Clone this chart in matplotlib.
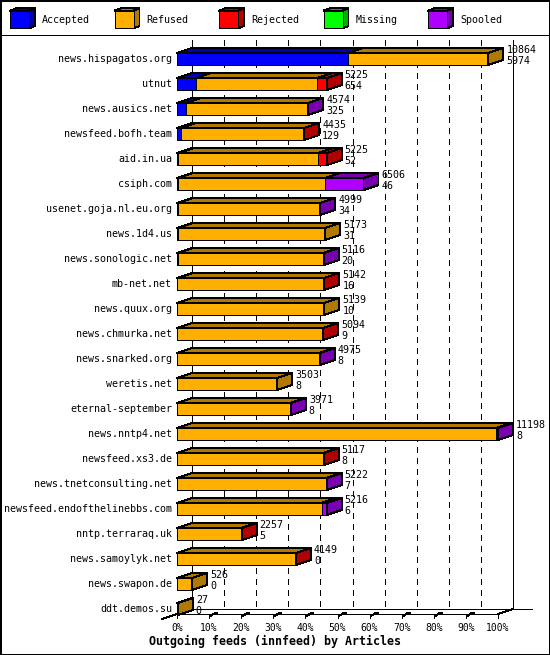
import matplotlib
matplotlib.use("Agg")
import matplotlib.pyplot as plt
from matplotlib.patches import Polygon, Rectangle

# ---------------- data ----------------
hosts = ["news.hispagatos.org", "utnut", "news.ausics.net", "newsfeed.bofh.team",
         "aid.in.ua", "csiph.com", "usenet.goja.nl.eu.org", "news.1d4.us",
         "news.sonologic.net", "mb-net.net", "news.quux.org", "news.chmurka.net",
         "news.snarked.org", "weretis.net", "eternal-september", "news.nntp4.net",
         "newsfeed.xs3.de", "news.tnetconsulting.net", "newsfeed.endofthelinebbs.com",
         "nntp.terraraq.uk", "news.samoylyk.net", "news.swapon.de", "ddt.demos.su"]
totals   = [10864, 5225, 4574, 4435, 5225, 6506, 4999, 5173, 5116, 5142, 5139, 5094,
            4975, 3503, 3971, 11198, 5117, 5222, 5216, 2257, 4149, 526, 27]
accepted = [5974, 654, 325, 129, 52, 46, 34, 31, 20, 16, 10, 9,
            8, 8, 8, 8, 8, 7, 6, 5, 0, 0, 0]
refused  = [4890, 4241, 4234, 4296, 4873, 5110, 4950, 5142, 5086, 5118, 5129, 5077,
            4957, 3495, 3953, 11110, 5101, 5205, 5035, 2244, 4141, 526, 27]
rejected = [0, 330, 0, 10, 300, 0, 0, 0, 0, 8, 0, 8,
            0, 0, 0, 0, 8, 0, 0, 8, 8, 0, 0]
missing  = [0] * 23
spooled  = [0, 0, 15, 0, 0, 1350, 15, 0, 10, 0, 0, 0,
            10, 0, 10, 80, 0, 10, 175, 0, 0, 0, 0]

series_names = ["Accepted", "Refused", "Rejected", "Missing", "Spooled"]
series_values = [accepted, refused, rejected, missing, spooled]
front_colors = ["#0000FF", "#FFAF00", "#FF0000", "#00FF00", "#AF00FF"]
side_colors = ["#0000B0", "#B07900", "#B00000", "#00B000", "#7900B0"]
tick_labels = ["0%", "10%", "20%", "30%", "40%", "50%", "60%", "70%", "80%", "90%", "100%"]
title = "Outgoing feeds (innfeed) by Articles"

# ---------------- layout (pixels) ----------------
W, H = 550, 655
PX0, PX100 = 177.0, 498.0      # front plane 0% and 100%
ROW0, STEP = 59.0, 25.0        # first row centre, row spacing
DEPTH_X, DEPTH_Y = 15.0, 5.0   # 3D offset
HALF = 6.0                     # half bar height
TOP_PX = 40.0
FLOOR_PX = 614.0
FONT = "DejaVu Sans Mono"
LW = 0.72

plt.rcParams["lines.scale_dashes"] = False
plt.rcParams["lines.antialiased"] = False
plt.rcParams["patch.antialiased"] = False

fig = plt.figure(figsize=(W / 100, H / 100), dpi=100)
ax = fig.add_axes([0, 0, 1, 1])
ax.axis("off")
lay = fig.add_axes([0, 0, 1, 1])
lay.axis("off")
lay.set_xlim(0, W)
lay.set_ylim(H, 0)
lay.set_zorder(0)
ax.set_zorder(1)
ax.patch.set_visible(False)

XMAX = max(totals)
s = XMAX / (PX100 - PX0)
ax.set_xlim(-PX0 * s, (W - PX0) * s)
ax.set_ylim((H - ROW0) / STEP, -ROW0 / STEP)

DX = DEPTH_X * s
DY = DEPTH_Y / STEP
HB = HALF / STEP
n = len(hosts)
y_top = (TOP_PX - ROW0) / STEP
floor_f = (FLOOR_PX - ROW0) / STEP
floor_b = floor_f - DY

# grid / walls (back plane)
for k in range(11):
    xb = k / 10 * XMAX + DX
    if k in (0, 10):
        ax.plot([xb, xb], [y_top, floor_b], color="black", lw=LW, zorder=1)
    else:
        ax.plot([xb, xb], [y_top, floor_b], color="black", lw=LW,
                dashes=(4, 4), zorder=1)

# floor
ax.plot([DX, XMAX + DX + 19 * s], [floor_b, floor_b], color="black", lw=LW, zorder=1)
ax.plot([0, XMAX], [floor_f, floor_f], color="black", lw=LW, zorder=3)
ax.plot([-DX, DX], [floor_f + DY, floor_b], color="black", lw=LW, zorder=3)
ax.plot([XMAX, XMAX + DX], [floor_f, floor_b], color="black", lw=LW, zorder=3)
for k in range(11):
    xf = k / 10 * XMAX
    ax.plot([xf, xf], [floor_f, floor_f + 4 / STEP], color="black", lw=LW, zorder=3)
    if 0 < k < 10:
        ax.plot([xf + 0.1 * DX, xf + 0.4 * DX], [floor_f + 2 / STEP, floor_f - 1 / STEP],
                color="black", lw=LW, zorder=3)
        ax.add_patch(Rectangle((xf + 0.45 * DX, floor_f - 2 / STEP), 0.15 * DX, 2 / STEP,
                               facecolor="black", edgecolor="none", zorder=3))
    lay.text(PX0 + k * (PX100 - PX0) / 10, 628, tick_labels[k], ha="center", va="center",
             fontsize=7, family=FONT)

# bars
for i in range(n):
    x = 0.0
    last = None
    for j, vals in enumerate(series_values):
        v = vals[i]
        if v <= 0:
            continue
        x0, x1 = x, x + v
        ax.add_patch(Polygon([(x0, i - HB), (x1, i - HB), (x1 + DX, i - HB - DY),
                              (x0 + DX, i - HB - DY)], closed=True,
                             facecolor=side_colors[j], edgecolor="black", lw=LW, zorder=4))
        ax.add_patch(Rectangle((x0, i - HB), v, 2 * HB, facecolor=front_colors[j],
                               edgecolor="black", lw=LW, zorder=5))
        x = x1
        last = j
    if last is not None:
        ax.add_patch(Polygon([(x, i - HB), (x, i + HB), (x + DX, i + HB - DY),
                              (x + DX, i - HB - DY)], closed=True,
                             facecolor=side_colors[last], edgecolor="black", lw=LW, zorder=6))
    ax.annotate(str(totals[i]), xy=(x + DX, i), xytext=(3, 9), textcoords="offset pixels",
                ha="left", va="center", fontsize=7.2, family=FONT, zorder=7)
    ax.annotate(str(accepted[i]), xy=(x + DX, i), xytext=(3, -2), textcoords="offset pixels",
                ha="left", va="center", fontsize=7.2, family=FONT, zorder=7)
    ax.annotate(hosts[i], xy=(0, i), xytext=(-5, 0), textcoords="offset pixels",
                ha="right", va="center", fontsize=7.2, family=FONT, zorder=7)

# title
lay.text(W / 2, 641, title, ha="center", va="center", fontsize=8.4, family=FONT,
         weight="bold")

# legend
for j, name in enumerate(series_names):
    lx = 10 + j * 104.5
    t, b = 10.7, 28.3
    lay.add_patch(Polygon([(lx, t), (lx + 19, t), (lx + 25, t - 2.3), (lx + 6, t - 2.3)],
                          closed=True, facecolor=side_colors[j], edgecolor="black", lw=LW))
    lay.add_patch(Polygon([(lx + 19, t), (lx + 19, b), (lx + 25, b - 2.3), (lx + 25, t - 2.3)],
                          closed=True, facecolor=side_colors[j], edgecolor="black", lw=LW))
    lay.add_patch(Rectangle((lx, t), 19, b - t, facecolor=front_colors[j],
                            edgecolor="black", lw=LW))
    lay.text(lx + 32, 20, name, ha="left", va="center", fontsize=7.2, family=FONT)

# frame
lay.plot([0, W], [35, 35], color="black", lw=LW)
lay.add_patch(Rectangle((0.5, 0.5), W - 1, H - 1, facecolor="none", edgecolor="black", lw=1.2))

fig.savefig("out.png", dpi=100)
